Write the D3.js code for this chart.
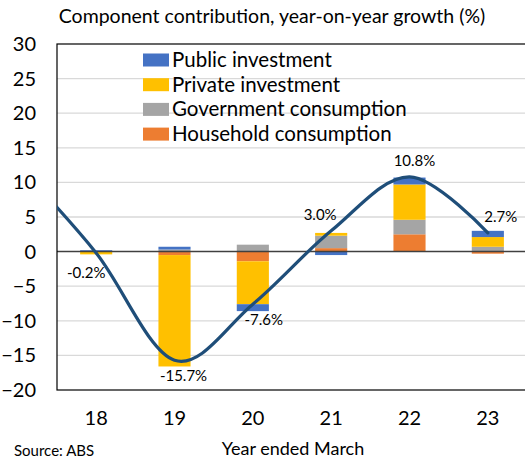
<!DOCTYPE html>
<html>
<head>
<meta charset="utf-8">
<script src="https://cdn.jsdelivr.net/npm/d3@7"></script>
<style>
  body { margin: 0; background: white; }
  text { font-family: Lato, "Open Sans", sans-serif; fill: #000; }
</style>
</head>
<body>
<script>
// data
var years = ["18", "19", "20", "21", "22", "23"];
var publicInv = [0.2, 0.4, -1.0, -0.5, 1.0, 0.9];
var privateInv = [-0.4, -16.1, -6.2, 0.4, 5.1, 1.4];
var govCons = [0.0, 0.3, 1.0, 1.8, 2.1, 0.7];
var houseCons = [0.0, -0.5, -1.4, 0.5, 2.5, -0.3];
var totals = [-0.2, -15.7, -7.6, 3.0, 10.8, 2.7];
// the smoothed line comes in from the previous year, off the left edge
var lineYears = ["17", "18", "19", "20", "21", "22", "23"];
var lineVals = [12.5, -0.2, -15.7, -7.6, 3.0, 10.8, 2.7];
var yTicks = [-20, -15, -10, -5, 0, 5, 10, 15, 20, 25, 30];

var width = 525, height = 458;
var plotL = 57, plotR = 527, plotT = 44, plotB = 390;

var svg = d3.select("body").append("svg")
	.attr("width", width)
	.attr("height", height);

var x = d3.scaleBand()
	.domain(years)
	.range([plotL, plotR])
	.paddingInner(0.59)
	.paddingOuter(0.295);

var step = x.step();
var xc = function(yr) {
	// centre of a category, also works for the hidden year before
	var i = +yr - 18;
	return plotL + step * (i + 0.5);
};

var y = d3.scaleLinear()
	.domain([-20, 30])
	.range([plotB, plotT]);

// gridlines
svg.append("g")
	.selectAll("line")
	.data(yTicks.filter(function(d) { return d != 0 && d != -20 && d != 30; }))
	.enter().append("line")
	.attr("x1", plotL).attr("x2", plotR)
	.attr("y1", function(d) { return y(d); })
	.attr("y2", function(d) { return y(d); })
	.attr("stroke", "#d9d9d9")
	.attr("stroke-width", 1.3);

// y axis labels
var yAxis = d3.axisLeft(y).tickValues(yTicks).tickSize(0).tickPadding(0);
var ya = svg.append("g")
	.attr("transform", "translate(36,0)")
	.call(yAxis);
ya.select(".domain").remove();
ya.selectAll("text")
	.style("font-family", "Lato, sans-serif")
	.attr("font-size", "20px")
	.attr("fill", "#000");

// stacked bars
var rows = years.map(function(d, i) {
	return { year: d, household: houseCons[i], government: govCons[i], "private": privateInv[i], "public": publicInv[i] };
});
var keys = ["household", "government", "private", "public"];
var colors = { household: "#ED7D31", government: "#A5A5A5", "private": "#FFC000", "public": "#4472C4" };

var stack = d3.stack().keys(keys).offset(d3.stackOffsetDiverging);
var series = stack(rows);

svg.append("g")
	.selectAll("g")
	.data(series)
	.enter().append("g")
	.attr("fill", function(d) { return colors[d.key]; })
	.selectAll("rect")
	.data(function(d) { return d; })
	.enter().append("rect")
	.attr("x", function(d) { return x(d.data.year); })
	.attr("width", x.bandwidth())
	.attr("y", function(d) { return y(Math.max(d[0], d[1])); })
	.attr("height", function(d) { return Math.abs(y(d[0]) - y(d[1])); });

// zero line
svg.append("line")
	.attr("x1", plotL).attr("x2", plotR)
	.attr("y1", y(0)).attr("y2", y(0))
	.attr("stroke", "#404040")
	.attr("stroke-width", 1.5);

// plot border
svg.append("rect")
	.attr("x", plotL).attr("y", plotT)
	.attr("width", plotR - plotL).attr("height", plotB - plotT)
	.attr("fill", "none")
	.attr("stroke", "#000")
	.attr("stroke-width", 1.2);

// total growth line
svg.append("clipPath").attr("id", "plotclip")
	.append("rect")
	.attr("x", plotL).attr("y", plotT)
	.attr("width", plotR - plotL).attr("height", plotB - plotT);

var line = d3.line()
	.x(function(d, i) { return xc(lineYears[i]); })
	.y(function(d) { return y(d); })
	.curve(d3.curveCardinal.tension(0));

svg.append("path")
	.datum(lineVals)
	.attr("clip-path", "url(#plotclip)")
	.attr("d", line)
	.attr("fill", "none")
	.attr("stroke", "#1F4E79")
	.attr("stroke-width", 3.2)
	.attr("stroke-linecap", "round");

// data labels
var labelPos = [[-10, 25], [9, 21], [11, 21], [-11, -11], [5, -11], [13, -11]];
svg.append("g")
	.selectAll("text")
	.data(totals)
	.enter().append("text")
	.attr("x", function(d, i) { return xc(years[i]) + labelPos[i][0]; })
	.attr("y", function(d, i) { return y(d) + labelPos[i][1]; })
	.attr("text-anchor", "middle")
	.attr("font-size", "15px")
	.text(function(d) { return d.toFixed(1) + "%"; });

// legend
var legendKeys = ["public", "private", "government", "household"];
var legendNames = ["Public investment", "Private investment", "Government consumption", "Household consumption"];
var lg = svg.append("g");
legendKeys.forEach(function(k, i) {
	var ly = 60 + i * 24.7;
	lg.append("rect")
		.attr("x", 143).attr("y", ly - 6.5)
		.attr("width", 26).attr("height", 13)
		.attr("fill", colors[k]);
	lg.append("text")
		.attr("x", 172).attr("y", ly + 7)
		.attr("font-size", "20.5px")
		.text(legendNames[i]);
});

// x axis labels
var xAxis = d3.axisBottom(x).tickSize(0).tickPadding(0);
var xa = svg.append("g")
	.attr("transform", "translate(0,411)")
	.call(xAxis);
xa.select(".domain").remove();
xa.selectAll("text")
	.style("font-family", "Lato, sans-serif")
	.attr("font-size", "20px")
	.attr("fill", "#000");

// titles
svg.append("text")
	.attr("x", 272).attr("y", 23)
	.attr("text-anchor", "middle")
	.attr("font-size", "19.5px")
	.text("Component contribution, year-on-year growth (%)");

svg.append("text")
	.attr("x", 293).attr("y", 455)
	.attr("text-anchor", "middle")
	.attr("font-size", "18px")
	.text("Year ended March");

svg.append("text")
	.attr("x", 14).attr("y", 456)
	.attr("font-size", "15px")
	.text("Source: ABS");
</script>
</body>
</html>
